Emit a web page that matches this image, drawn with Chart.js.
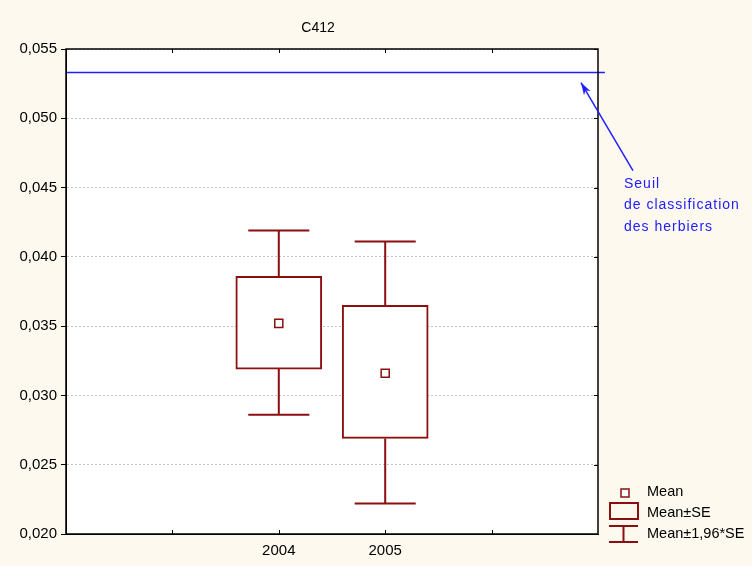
<!DOCTYPE html>
<html>
<head>
<meta charset="utf-8">
<script src="https://cdn.jsdelivr.net/npm/chart.js@4.4.1/dist/chart.umd.min.js"></script>
<style>
  html, body { margin: 0; padding: 0; background: #fdf9ef; }
  canvas { display: block; }
</style>
</head>
<body>
<canvas id="c412Chart" width="752" height="566"></canvas>
<script>
// data
const years = ['2004', '2005'];
const xPos = [2, 3];
const means = [0.0352, 0.0316];
const seLow = [0.0319, 0.0269];
const seHigh = [0.0386, 0.0365];
const ciLow = [0.0286, 0.0222];
const ciHigh = [0.0419, 0.0411];
const threshold = 0.0533;
const yTicks = [0.020, 0.025, 0.030, 0.035, 0.040, 0.045, 0.050, 0.055];

const RED = '#8b0f0f';
const BLUE = '#2020ff';
const FONT = '"Liberation Sans", Arial, sans-serif';
const capHalf = 0.287;

// whisker segments, gaps with y null
const whiskers = [];
xPos.forEach((x, i) => {
  whiskers.push({ x: x, y: ciHigh[i] }, { x: x, y: seHigh[i] }, { x: x, y: null });
  whiskers.push({ x: x, y: seLow[i] }, { x: x, y: ciLow[i] }, { x: x, y: null });
  whiskers.push({ x: x - capHalf, y: ciHigh[i] }, { x: x + capHalf, y: ciHigh[i] }, { x: x, y: null });
  whiskers.push({ x: x - capHalf, y: ciLow[i] }, { x: x + capHalf, y: ciLow[i] }, { x: x, y: null });
});

// plot frame, inner ticks, title, annotation and legend
const decorPlugin = {
  id: 'decor',
  beforeDraw(chart) {
    const { ctx, chartArea: a } = chart;
    ctx.save();
    ctx.fillStyle = '#fdf9ef';
    ctx.fillRect(0, 0, chart.width, chart.height);
    ctx.fillStyle = '#ffffff';
    ctx.fillRect(a.left, a.top, a.right - a.left, a.bottom - a.top);
    ctx.restore();
  },
  afterDraw(chart) {
    const { ctx, chartArea: a, scales } = chart;
    const xs = scales.x, ys = scales.y;
    ctx.save();
    // frame
    ctx.strokeStyle = '#000';
    ctx.lineWidth = 1.5;
    ctx.strokeRect(a.left, a.top, a.right - a.left, a.bottom - a.top);
    // inner x ticks top and bottom
    ctx.lineWidth = 1;
    ctx.beginPath();
    for (let v = 1; v <= 4; v++) {
      const px = Math.round(xs.getPixelForValue(v)) + 0.5;
      ctx.moveTo(px, a.bottom); ctx.lineTo(px, a.bottom - 4);
      ctx.moveTo(px, a.top); ctx.lineTo(px, a.top + 4);
    }
    // inner ticks on right border
    yTicks.forEach(v => {
      const py = Math.round(ys.getPixelForValue(v)) + 0.5;
      ctx.moveTo(a.right, py); ctx.lineTo(a.right - 4, py);
    });
    ctx.stroke();

    // title
    ctx.fillStyle = '#000';
    ctx.font = '14px ' + FONT;
    ctx.textAlign = 'center';
    ctx.textBaseline = 'middle';
    ctx.fillText('C412', (a.left + 570) / 2, 28);

    // annotation arrow
    const tipX = xs.getPixelForValue(4.84);
    const tipY = ys.getPixelForValue(threshold) + 10;
    const tailX = tipX + 52, tailY = tipY + 88;
    ctx.strokeStyle = BLUE;
    ctx.fillStyle = BLUE;
    ctx.lineWidth = 1.5;
    ctx.beginPath();
    ctx.moveTo(tailX, tailY);
    ctx.lineTo(tipX, tipY);
    ctx.stroke();
    const ang = Math.atan2(tipY - tailY, tipX - tailX);
    ctx.beginPath();
    ctx.moveTo(tipX, tipY);
    ctx.lineTo(tipX - 13 * Math.cos(ang - 0.3), tipY - 13 * Math.sin(ang - 0.3));
    ctx.lineTo(tipX - 9 * Math.cos(ang), tipY - 9 * Math.sin(ang));
    ctx.lineTo(tipX - 13 * Math.cos(ang + 0.3), tipY - 13 * Math.sin(ang + 0.3));
    ctx.closePath();
    ctx.fill();

    ctx.font = '14px ' + FONT;
    ctx.textAlign = 'left';
    ctx.letterSpacing = '1px';
    ['Seuil', 'de classification', 'des herbiers'].forEach((t, i) => {
      ctx.fillText(t, 624, 184 + i * 21.5);
    });
    ctx.letterSpacing = '0px';

    // legend
    ctx.strokeStyle = RED;
    ctx.lineWidth = 1.5;
    ctx.fillStyle = '#fff';
    ctx.fillRect(621, 489, 8, 8);
    ctx.strokeRect(621, 489, 8, 8);
    ctx.lineWidth = 2;
    ctx.strokeRect(610, 503, 28, 16);
    ctx.beginPath();
    ctx.moveTo(609, 526); ctx.lineTo(638, 526);
    ctx.moveTo(623.5, 526); ctx.lineTo(623.5, 542);
    ctx.moveTo(609, 542); ctx.lineTo(638, 542);
    ctx.stroke();
    ctx.fillStyle = '#000';
    ctx.font = '14.5px ' + FONT;
    ctx.fillText('Mean', 647, 492);
    ctx.fillText('Mean\u00b1SE', 647, 513);
    ctx.fillText('Mean\u00b11,96*SE', 647, 534);
    ctx.restore();
  }
};

new Chart(document.getElementById('c412Chart'), {
  type: 'bar',
  data: {
    datasets: [
      {
        type: 'scatter',
        label: 'Mean',
        data: xPos.map((x, i) => ({ x: x, y: means[i] })),
        pointStyle: 'rect',
        pointRadius: 5.7,
        pointBorderWidth: 1.5,
        pointBorderColor: RED,
        pointBackgroundColor: '#fff',
        order: 0
      },
      {
        type: 'line',
        label: 'Mean\u00b11,96*SE',
        data: whiskers,
        borderColor: RED,
        borderWidth: 2,
        pointRadius: 0,
        spanGaps: false,
        order: 1
      },
      {
        type: 'bar',
        label: 'Mean\u00b1SE',
        data: xPos.map((x, i) => ({ x: x, y: [seLow[i], seHigh[i]] })),
        backgroundColor: '#fff',
        borderColor: RED,
        borderWidth: 2,
        borderSkipped: false,
        barThickness: 86,
        grouped: false,
        order: 2
      },
      {
        type: 'line',
        label: 'Seuil',
        data: [{ x: 0, y: threshold }, { x: 5.065, y: threshold }],
        borderColor: BLUE,
        borderWidth: 1.5,
        pointRadius: 0,
        clip: false,
        order: 3
      }
    ]
  },
  options: {
    responsive: false,
    animation: false,
    layout: { padding: { left: 0, right: 154, top: 49, bottom: 0 } },
    plugins: {
      legend: { display: false },
      tooltip: { enabled: false },
      title: { display: false }
    },
    scales: {
      x: {
        type: 'linear',
        min: 0,
        max: 5,
        offset: false,
        afterFit: s => { s.height = 32; },
        afterBuildTicks: s => { s.ticks = [0, 1, 2, 3, 4, 5].map(v => ({ value: v })); },
        ticks: {
          padding: 8,
          color: '#000',
          font: { family: FONT, size: 15 },
          maxRotation: 0,
          autoSkip: false,
          callback: v => (xPos.indexOf(v) >= 0 ? years[xPos.indexOf(v)] : '')
        },
        grid: { drawOnChartArea: false, drawTicks: false },
        border: { color: '#000', width: 1 }
      },
      y: {
        min: 0.020,
        max: 0.055,
        afterFit: s => { s.width = 66; },
        afterBuildTicks: s => { s.ticks = yTicks.map(v => ({ value: v })); },
        ticks: {
          padding: 4,
          color: '#000',
          font: { family: FONT, size: 15 },
          callback: v => v.toFixed(3).replace('.', ',')
        },
        grid: {
          color: '#c4c4c4',
          tickLength: 5,
          tickColor: '#000',
          tickBorderDash: [],
          tickWidth: 1
        },
        border: { color: '#000', width: 1, dash: [2, 2] }
      }
    }
  },
  plugins: [decorPlugin]
});
</script>
</body>
</html>
